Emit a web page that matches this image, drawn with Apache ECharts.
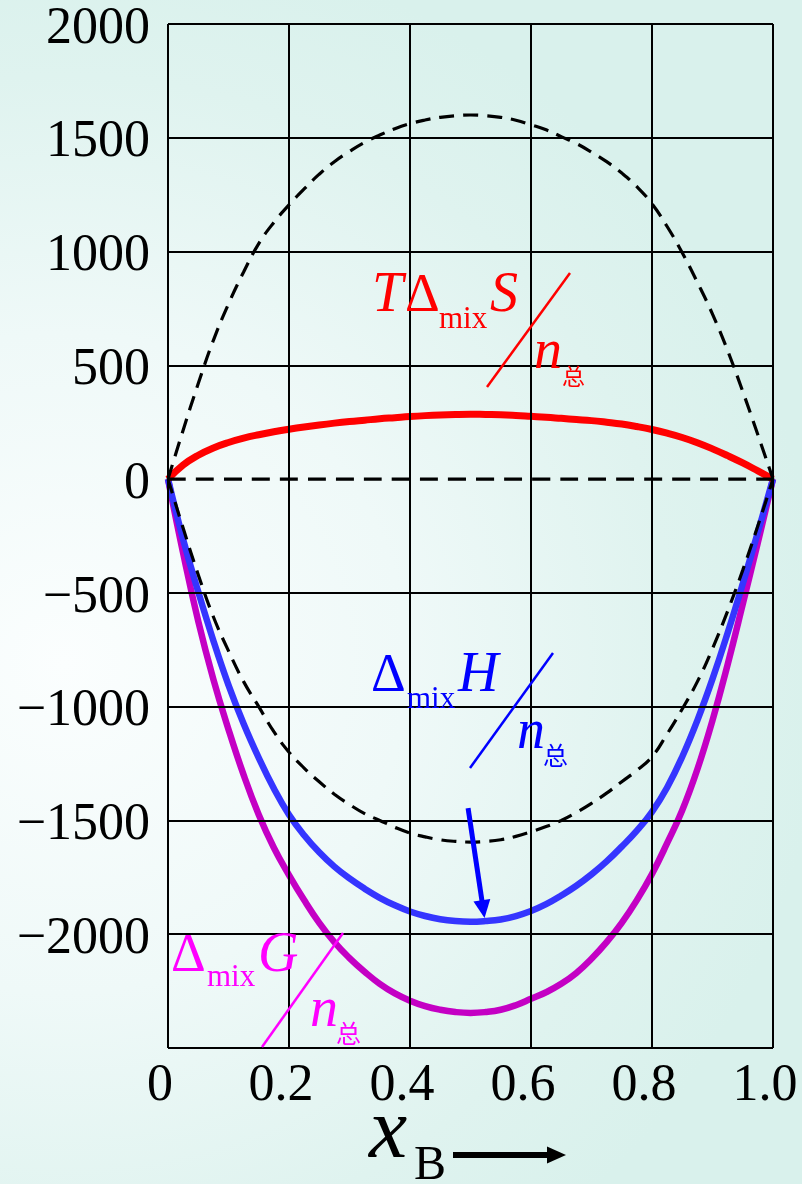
<!DOCTYPE html>
<html>
<head>
<meta charset="utf-8">
<script src="https://cdn.jsdelivr.net/npm/echarts@6/dist/echarts.min.js"></script>
<style>
  html, body { margin: 0; padding: 0; }
  body {
    width: 802px; height: 1184px; overflow: hidden;
    background: radial-gradient(ellipse 95% 62% at 8% 56%, #fbfefe 0%, #eff9f8 45%, #dff3ef 80%, #d9f1ec 100%);
  }
  #chart { width: 802px; height: 1184px; }
</style>
</head>
<body>
<div id="chart"></div>
<script>
// Mole fraction of B, step 0.025
const xB = [0, 0.025, 0.05, 0.075, 0.1, 0.125, 0.15, 0.175, 0.2, 0.225, 0.25, 0.275, 0.3, 0.325, 0.35, 0.375,
            0.4, 0.425, 0.45, 0.475, 0.5, 0.525, 0.55, 0.575, 0.6, 0.625, 0.65, 0.675, 0.7, 0.725, 0.75,
            0.775, 0.8, 0.825, 0.85, 0.875, 0.9, 0.925, 0.95, 0.975, 1.0];

// T·ΔmixS / n总
const tdsValues = [0, 62, 105, 137, 161, 180, 195, 208, 219, 229, 238, 246, 253, 259, 265, 270,
                   275, 279, 282, 284, 285, 284, 283, 280, 276, 272, 267, 262, 257, 250, 242,
                   231, 218, 202, 183, 160, 133, 103, 71, 36, 0];
// ΔmixH / n总
const dhValues = [0, -265, -495, -710, -905, -1075, -1225, -1360, -1475, -1565, -1640, -1703, -1755, -1800, -1840, -1873,
                  -1900, -1920, -1934, -1942, -1945, -1942, -1935, -1920, -1898, -1868, -1830, -1787, -1737, -1680, -1615,
                  -1545, -1462, -1355, -1220, -1060, -878, -676, -460, -233, 0];
// ΔmixG / n总
const dgValues = [0, -325, -625, -880, -1100, -1300, -1475, -1620, -1740, -1850, -1950, -2035, -2105, -2165, -2218, -2260,
                  -2292, -2316, -2332, -2342, -2346, -2342, -2332, -2312, -2284, -2255, -2218, -2170, -2108, -2035, -1950,
                  -1850, -1735, -1600, -1455, -1275, -1060, -815, -550, -278, 0];
// dashed reference curves
const upperDashed = [0, 215, 420, 610, 770, 910, 1035, 1128, 1205, 1275, 1340, 1395, 1440, 1480, 1512, 1540,
                     1562, 1578, 1590, 1597, 1600, 1597, 1590, 1577, 1557, 1535, 1505, 1475, 1437, 1395, 1345,
                     1285, 1210, 1110, 995, 865, 725, 565, 385, 195, 0];
const lowerDashed = [0, -215, -420, -605, -755, -890, -1000, -1110, -1200, -1270, -1330, -1385, -1430, -1470, -1500, -1530,
                     -1555, -1572, -1585, -1592, -1595, -1592, -1585, -1570, -1550, -1527, -1500, -1465, -1425, -1380, -1330,
                     -1280, -1220, -1120, -1010, -890, -745, -580, -400, -205, 0];
const zeroLine = [[0, 0], [1, 0]];

// axes
const xTicks = [0, 0.2, 0.4, 0.6, 0.8, 1.0];
const xTickLabels = ['0', '0.2', '0.4', '0.6', '0.8', '1.0'];
const yTicks = [-2500, -2000, -1500, -1000, -500, 0, 500, 1000, 1500, 2000];
const yTickLabels = ['', '\u22122000', '\u22121500', '\u22121000', '\u2212500', '0', '500', '1000', '1500', '2000'];

// arrow pointing at the minimum of ΔmixH
const arrowFrom = [0.496, -1446];
const arrowTo = [0.521, -1890];

const pair = vals => xB.map((x, i) => [x, vals[i]]);

const SERIF = '"Liberation Serif", "Times New Roman", serif';
const CJK = '"Noto Sans CJK SC", sans-serif';

const chart = echarts.init(document.getElementById('chart'), null, { renderer: 'canvas' });

// glyph placed by its left edge and text baseline (Times metrics)
function glyph(str, left, baseline, size, color, italic, family) {
  return {
    type: 'text', z: 50, silent: true,
    style: {
      text: str, x: left, y: baseline - 0.3375 * size,
      font: (italic ? 'italic ' : '') + size + 'px ' + (family || SERIF),
      fill: color, align: 'left', verticalAlign: 'middle'
    }
  };
}
function cjk(str, left, center, size, color) {
  return {
    type: 'text', z: 50, silent: true,
    style: { text: str, x: left, y: center, font: size + 'px ' + CJK, fill: color, align: 'left', verticalAlign: 'middle' }
  };
}
function stroke(x1, y1, x2, y2, color, w) {
  return { type: 'line', z: 50, silent: true, shape: { x1, y1, x2, y2 }, style: { stroke: color, lineWidth: w } };
}

const RED = '#ff0000', BLUE = '#0000ff', MAG = '#ff00ff';

const annotations = [
  // T Δmix S / n总
  glyph('T', 372, 315, 56, RED, true),
  glyph('\u0394', 405, 315, 54, RED, false),
  glyph('mix', 439, 330, 31, RED, false),
  glyph('S', 490, 315, 56, RED, true),
  stroke(487, 387, 570, 273, RED, 2.5),
  glyph('n', 534, 372, 56, RED, true),
  cjk('总', 562, 376, 23, RED),
  // Δmix H / n总
  glyph('\u0394', 371, 695, 54, BLUE, false),
  glyph('mix', 407, 710, 31, BLUE, false),
  glyph('H', 458, 695, 56, BLUE, true),
  stroke(470, 768, 553, 653, BLUE, 2.5),
  glyph('n', 517, 752, 56, BLUE, true),
  cjk('总', 543, 755, 25, BLUE),
  // Δmix G / n总
  glyph('\u0394', 171, 975, 54, MAG, false),
  glyph('mix', 207, 988, 31, MAG, false),
  glyph('G', 258, 975, 56, MAG, true),
  stroke(262, 1047, 343, 933, MAG, 2.5),
  glyph('n', 310, 1030, 56, MAG, true),
  cjk('总', 336, 1033, 25, MAG),
  // x_B axis title with arrow
  glyph('x', 369, 1163, 86, '#000', true),
  glyph('B', 414, 1183, 48, '#000', false),
  { type: 'rect', z: 50, silent: true, shape: { x: 453, y: 1152, width: 96, height: 6 }, style: { fill: '#000' } },
  { type: 'polygon', z: 50, silent: true, shape: { points: [[547, 1146.5], [566, 1155], [547, 1163.5]] }, style: { fill: '#000' } }
];

const gridLineData = [];
xTicks.forEach(v => gridLineData.push({ xAxis: v }));
yTicks.forEach(v => { if (v !== 0) gridLineData.push({ yAxis: v }); });

function curve(name, vals, color, width, z) {
  return {
    name, type: 'line', data: pair(vals), smooth: 0.45, showSymbol: false, symbol: 'none',
    z, lineStyle: { color, width }, silent: true, animation: false, clip: false
  };
}
function dashed(name, data, z, dash) {
  return {
    name, type: 'line', data, smooth: 0.45, showSymbol: false, symbol: 'none', z,
    lineStyle: { color: '#000', width: 3.2, type: dash, cap: 'butt' }, silent: true, animation: false
  };
}

const dhSeries = curve('dH', dhValues, '#3535ff', 6.5, 2);
dhSeries.markLine = {
  silent: true, animation: false, z: 6,
  symbol: ['none', 'triangle'], symbolSize: [17, 18],
  label: { show: false },
  lineStyle: { color: BLUE, width: 5, type: 'solid' },
  data: [[{ coord: arrowFrom }, { coord: arrowTo }]]
};

const option = {
  animation: false,
  backgroundColor: 'transparent',
  grid: { left: 168, right: 29, top: 24, bottom: 136, show: false },
  xAxis: {
    type: 'value', min: 0, max: 1, interval: 0.2,
    axisLine: { show: false }, axisTick: { show: false }, splitLine: { show: false },
    axisLabel: {
      fontFamily: SERIF, fontSize: 52, color: '#000', margin: 12, padding: [0, 16, 0, 0],
      formatter: v => { const i = xTicks.findIndex(t => Math.abs(t - v) < 1e-9); return i >= 0 ? xTickLabels[i] : ''; }
    }
  },
  yAxis: {
    type: 'value', min: -2500, max: 2000, interval: 500,
    axisLine: { show: false }, axisTick: { show: false }, splitLine: { show: false },
    axisLabel: { show: false }
  },
  series: [
    curve('dG', dgValues, '#c400c4', 6.5, 2),
    dhSeries,
    curve('TdS', tdsValues, RED, 7, 2),
    {
      name: 'grid', type: 'line', data: [], z: 3, silent: true, animation: false,
      markLine: {
        silent: true, animation: false, symbol: 'none', label: { show: false },
        lineStyle: { color: '#000', width: 2, type: 'solid' },
        data: gridLineData
      }
    },
    dashed('upper', pair(upperDashed), 4, [15, 9]),
    dashed('lower', pair(lowerDashed), 4, [15, 9]),
    dashed('zero', zeroLine, 4, [18, 10])
  ],
  graphic: { elements: annotations }
};

chart.setOption(option);

// y tick labels: right-aligned beside the frame, sitting slightly below each grid line
const yLabelEls = yTicks.map((v, i) => {
  const py = chart.convertToPixel({ yAxisIndex: 0 }, v);
  return {
    type: 'text', z: 50, silent: true,
    style: {
      text: yTickLabels[i], x: 150, y: py + 5,
      font: '52px ' + SERIF, fill: '#000', align: 'right', verticalAlign: 'middle'
    }
  };
});
chart.setOption({ graphic: { elements: annotations.concat(yLabelEls) } });
</script>
</body>
</html>
